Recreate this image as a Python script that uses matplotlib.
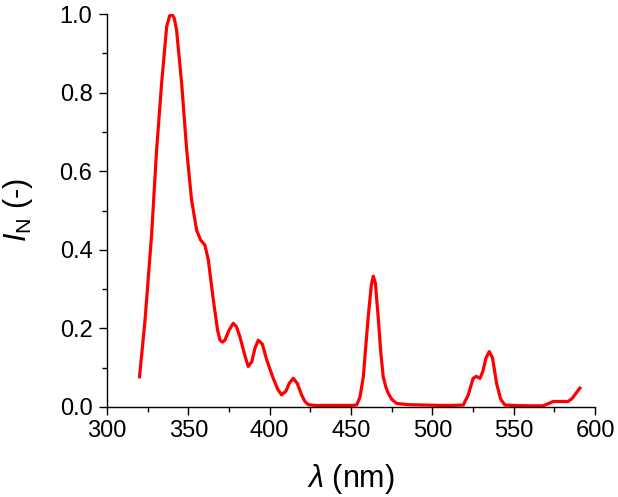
import matplotlib
matplotlib.use("Agg")
import matplotlib.pyplot as plt
from matplotlib.ticker import MultipleLocator

wavelength = [320, 323.4, 327.5, 330.5, 333.6, 336.7, 338.5, 339.8, 341.3, 342.8, 345.9,
              349.0, 352.0, 355.1, 357.5, 360.2, 362.3, 365.4, 368, 369.5, 371, 372.5,
              375, 377.6, 379.5, 381.7, 384.5, 386.8, 389, 391, 393.0, 395.5, 398.2,
              402, 405, 407.3, 410, 412, 414.5, 417, 419.6, 421.5, 423.7, 428, 440,
              450, 453.5, 455.5, 457.6, 459, 460.6, 462.5, 463.7, 465, 466.7, 468.3,
              469.8, 471.5, 472.9, 475, 478, 485, 495, 505, 512, 519, 522, 525.1,
              527, 529.3, 531, 533, 535, 537, 539.5, 542, 544.6, 550, 560, 568,
              571, 574.3, 579, 583.5, 586, 588.5, 590.7]
intensity = [0.077, 0.221, 0.442, 0.654, 0.824, 0.968, 0.995, 1.0, 0.99, 0.959, 0.824,
             0.654, 0.527, 0.45, 0.425, 0.412, 0.374, 0.272, 0.195, 0.170, 0.165, 0.170,
             0.195, 0.213, 0.205, 0.179, 0.135, 0.103, 0.115, 0.150, 0.170, 0.160, 0.120,
             0.075, 0.045, 0.031, 0.040, 0.060, 0.073, 0.060, 0.031, 0.015, 0.006, 0.004, 0.004,
             0.004, 0.005, 0.025, 0.077, 0.150, 0.230, 0.310, 0.333, 0.315, 0.230, 0.140,
             0.077, 0.050, 0.035, 0.020, 0.009, 0.006, 0.005, 0.004, 0.004, 0.005, 0.030, 0.073,
             0.078, 0.073, 0.090, 0.125, 0.141, 0.125, 0.060, 0.020, 0.005, 0.004, 0.003, 0.003,
             0.008, 0.014, 0.014, 0.014, 0.022, 0.036, 0.048]

x_ticks = [300, 350, 400, 450, 500, 550, 600]
y_ticks = [0.0, 0.2, 0.4, 0.6, 0.8, 1.0]

plt.rcParams['font.family'] = ['Liberation Sans', 'DejaVu Sans']
plt.rcParams['mathtext.fontset'] = 'custom'
plt.rcParams['mathtext.it'] = 'Liberation Sans:italic'
plt.rcParams['mathtext.rm'] = 'Liberation Sans'

fig = plt.figure(figsize=(6.18, 4.97), dpi=100)
ax = fig.add_axes([0.1731, 0.1811, 0.7897, 0.7907])
ax.plot(wavelength, intensity, color='#ff0000', lw=2.3, solid_joinstyle='round')

ax.set_xlim(300, 600)
ax.set_ylim(0, 1.0)
ax.set_xticks(x_ticks)
ax.set_yticks(y_ticks)
ax.set_yticklabels([f"{v:.1f}" for v in y_ticks])
ax.xaxis.set_minor_locator(MultipleLocator(25))
ax.yaxis.set_minor_locator(MultipleLocator(0.1))
for s in ['top', 'right']:
    ax.spines[s].set_visible(False)
for s in ['left', 'bottom']:
    ax.spines[s].set_linewidth(1.0)
ax.tick_params(which='major', direction='out', length=5.5, width=1.0, labelsize=17)
ax.tick_params(axis='x', which='major', pad=4)
ax.tick_params(axis='y', which='major', pad=5)
ax.tick_params(which='minor', direction='out', length=3.5, width=1.0)
ax.set_xlabel(r'$\mathit{\lambda}$ (nm)', fontsize=22, labelpad=14)
ax.set_ylabel(r'$\mathit{I}_{\mathrm{N}}$ (-)', fontsize=22, labelpad=18)

fig.savefig('out.png', dpi=100)
